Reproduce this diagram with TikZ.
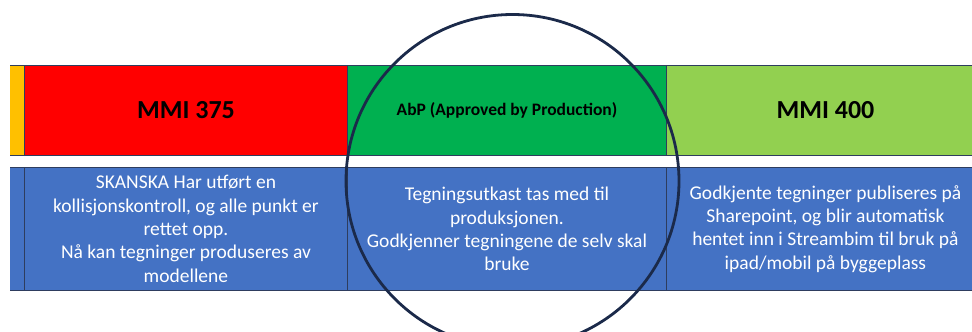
\documentclass[tikz,border=0pt]{standalone}
\usepackage{fontspec}
\setmainfont{Carlito}
\definecolor{cyellow}{HTML}{FFC000}
\definecolor{cred}{HTML}{FF0000}
\definecolor{cgreen}{HTML}{00B050}
\definecolor{clgreen}{HTML}{92D050}
\definecolor{cblue}{HTML}{4472C4}
\definecolor{cedge}{HTML}{2E3D5E}
\definecolor{cring}{HTML}{1B2A4A}
\begin{document}
\begin{tikzpicture}[x=1pt,y=-1pt,
  cell/.style={draw=cedge,line width=0.9pt,anchor=north west,inner sep=0pt,minimum height=#1,align=center},
  head/.style={cell=90pt,font=\bfseries\fontsize{26}{30}\selectfont,text=black},
  body/.style={cell=123pt,font=\fontsize{19.5}{23.3}\selectfont,text=white},
  ring/.style={draw=cring,line width=2.8pt}]
\useasboundingbox (0,0) rectangle (972,332);
\begin{scope}
\clip (10,0) rectangle (972,332);
% top row
\node[head,fill=cyellow,minimum width=34pt] (ty) at (-10,65) {};
\node[head,fill=cred,minimum width=323pt] (tr) at (24,65) {MMI 375};
\node[cell=90pt,fill=cgreen,minimum width=319pt,font=\bfseries\fontsize{17.5}{20}\selectfont] (tg) at (347,65) {AbP (Approved by Production)};
\node[head,fill=clgreen,minimum width=318pt] (tl) at (666,65) {MMI 400};
% bottom row
\node[body,fill=cblue,minimum width=34pt] (by) at (-10,167) {};
\node[body,fill=cblue,minimum width=323pt] (br) at (24,167) {SKANSKA Har utført en\\kollisjonskontroll, og alle punkt er\\rettet opp.\\Nå kan tegninger produseres av\\modellene};
\node[body,fill=cblue,minimum width=319pt] (bg) at (347,167) {Tegningsutkast tas med til\\produksjonen.\\Godkjenner tegningene de selv skal\\bruke};
\node[body,fill=cblue,minimum width=318pt] (bl) at (666,167) {Godkjente tegninger publiseres på\\Sharepoint, og blir automatisk\\hentet inn i Streambim til bruk på\\ipad/mobil på byggeplass};
\end{scope}
\begin{scope}
\clip (0,0) rectangle (972,332);
\node[ring,circle,minimum size=333pt,inner sep=0pt] (ring) at (512.5,181) {};
\end{scope}
\end{tikzpicture}
\end{document}
